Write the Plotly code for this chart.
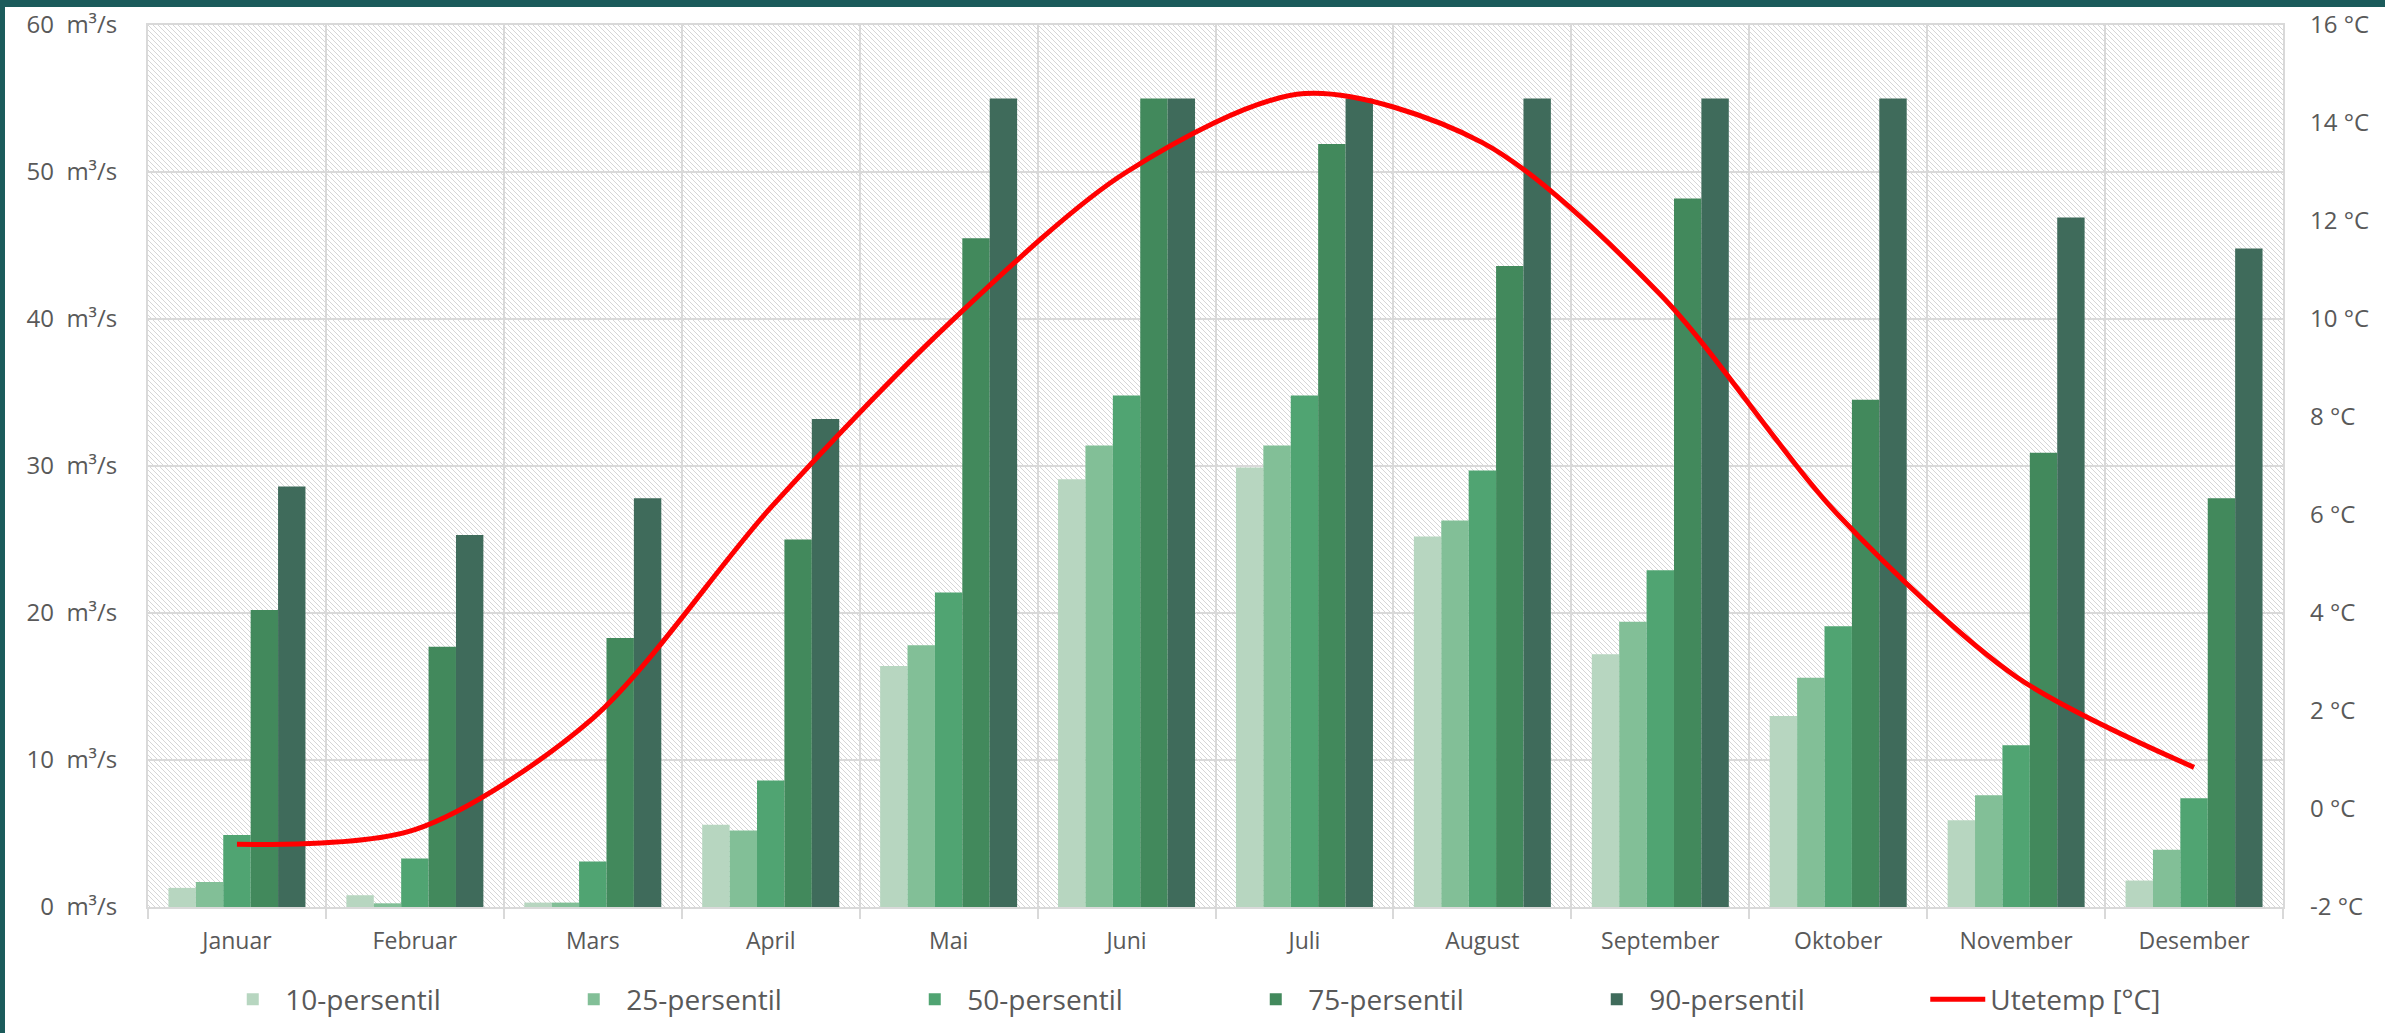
import base64
import plotly.graph_objects as go

# ---------------- data ----------------
months = ["Januar", "Februar", "Mars", "April", "Mai", "Juni", "Juli",
          "August", "September", "Oktober", "November", "Desember"]
p10 = [1.3, 0.8, 0.3, 5.6, 16.4, 29.1, 29.9, 25.2, 17.2, 13.0, 5.9, 1.8]
p25 = [1.7, 0.25, 0.3, 5.2, 17.8, 31.4, 31.4, 26.3, 19.4, 15.6, 7.6, 3.9]
p50 = [4.9, 3.3, 3.1, 8.6, 21.4, 34.8, 34.8, 29.7, 22.9, 19.1, 11.0, 7.4]
p75 = [20.2, 17.7, 18.3, 25.0, 45.5, 55.0, 51.9, 43.6, 48.2, 34.5, 30.9, 27.8]
p90 = [28.6, 25.3, 27.8, 33.2, 55.0, 55.0, 55.0, 55.0, 55.0, 55.0, 46.9, 44.8]
utetemp = [-0.72, -0.42, 1.85, 6.15, 9.9, 13.0, 14.6, 13.6, 10.5, 6.0, 2.7, 0.85]

series_names = ["10-persentil", "25-persentil", "50-persentil", "75-persentil", "90-persentil"]
series_values = [p10, p25, p50, p75, p90]
series_colors = ["#b7d6c0", "#82bf97", "#50a472", "#42895c", "#3f6b5b"]

left_ticks = [0, 10, 20, 30, 40, 50, 60]
left_ticktext = [f"{v}\u00a0\u00a0m³/s" for v in left_ticks]
right_ticks = [-2, 0, 2, 4, 6, 8, 10, 12, 14, 16]
right_ticktext = [f"{v} °C" for v in right_ticks]

# ---------------- layout geometry ----------------
W, H = 2385, 1033
L, R, T, B = 148, 102, 25, 126
PW, PH = W - L - R, H - T - B
FONT = "Open Sans"
GRAY = "#595959"
GRID = "#d9d9d9"
TEAL = "#1b5b5b"

fig = go.Figure()
for name, vals, col in zip(series_names, series_values, series_colors):
    fig.add_trace(go.Bar(x=months, y=vals, name=name, marker_color=col,
                         marker_line_width=0, yaxis="y"))

fig.add_trace(go.Scatter(x=months, y=utetemp, name="Utetemp [°C]", yaxis="y2",
                         mode="lines", line=dict(color="#ff0000", width=5,
                                                 shape="spline", smoothing=0.85)))

# hatched plot background as an SVG pattern
svg = (f'<svg xmlns="http://www.w3.org/2000/svg" width="{PW}" height="{PH}">'
       '<defs><pattern id="h" patternUnits="userSpaceOnUse" width="5" height="5">'
       '<path d="M-1,-1 L6,6 M-1,4 L1,6 M4,-1 L6,1" stroke="#d6d6d6" stroke-width="1"/>'
       '</pattern></defs>'
       '<rect width="100%" height="100%" fill="#ffffff"/>'
       '<rect width="100%" height="100%" fill="url(#h)"/></svg>')
uri = "data:image/svg+xml;base64," + base64.b64encode(svg.encode()).decode()

fig.update_layout(
    width=W, height=H,
    margin=dict(l=L, r=R, t=T, b=B, pad=0, autoexpand=False),
    paper_bgcolor="white", plot_bgcolor="white",
    barmode="group", bargap=0.23, bargroupgap=0,
    font=dict(family=FONT, size=24, color=GRAY),
    images=[dict(source=uri, xref="paper", yref="paper", x=0, y=1,
                 sizex=1, sizey=1, xanchor="left", yanchor="top",
                 sizing="stretch", layer="below")],
    xaxis=dict(type="category", tickson="boundaries", ticks="outside",
               ticklen=10, tickwidth=2, tickcolor=GRID,
               showgrid=True, gridcolor=GRID, gridwidth=2,
               showline=True, linecolor=GRID, linewidth=2, mirror=True,
               tickfont=dict(size=23, color=GRAY), ticklabelstandoff=12),
    yaxis=dict(range=[0, 60], tickvals=left_ticks, ticktext=left_ticktext,
               showgrid=True, gridcolor=GRID, gridwidth=2, zeroline=False,
               showline=True, linecolor=GRID, linewidth=2, mirror=True,
               tickfont=dict(size=24, color=GRAY), ticklabelstandoff=24),
    yaxis2=dict(range=[-2, 16], tickvals=right_ticks, ticktext=right_ticktext,
                overlaying="y", side="right", showgrid=False, zeroline=False,
                showline=False, tickfont=dict(size=24, color=GRAY),
                ticklabelstandoff=26),
    legend=dict(orientation="h", x=0.513, xanchor="center", y=-0.105,
                yanchor="middle", font=dict(size=28, color=GRAY),
                entrywidth=271, entrywidthmode="pixels", itemwidth=55,
                traceorder="normal", bgcolor="rgba(0,0,0,0)"),
    showlegend=True,
    shapes=[
        dict(type="rect", xref="paper", yref="paper",
             x0=-L / PW, x1=(-L + 5) / PW, y0=-B / PH, y1=1 + T / PH,
             fillcolor=TEAL, line_width=0, layer="above"),
        dict(type="rect", xref="paper", yref="paper",
             x0=-L / PW, x1=1 + R / PW, y0=1 + (T - 7) / PH, y1=1 + T / PH,
             fillcolor=TEAL, line_width=0, layer="above"),
    ],
)

fig.write_html("out.html")
